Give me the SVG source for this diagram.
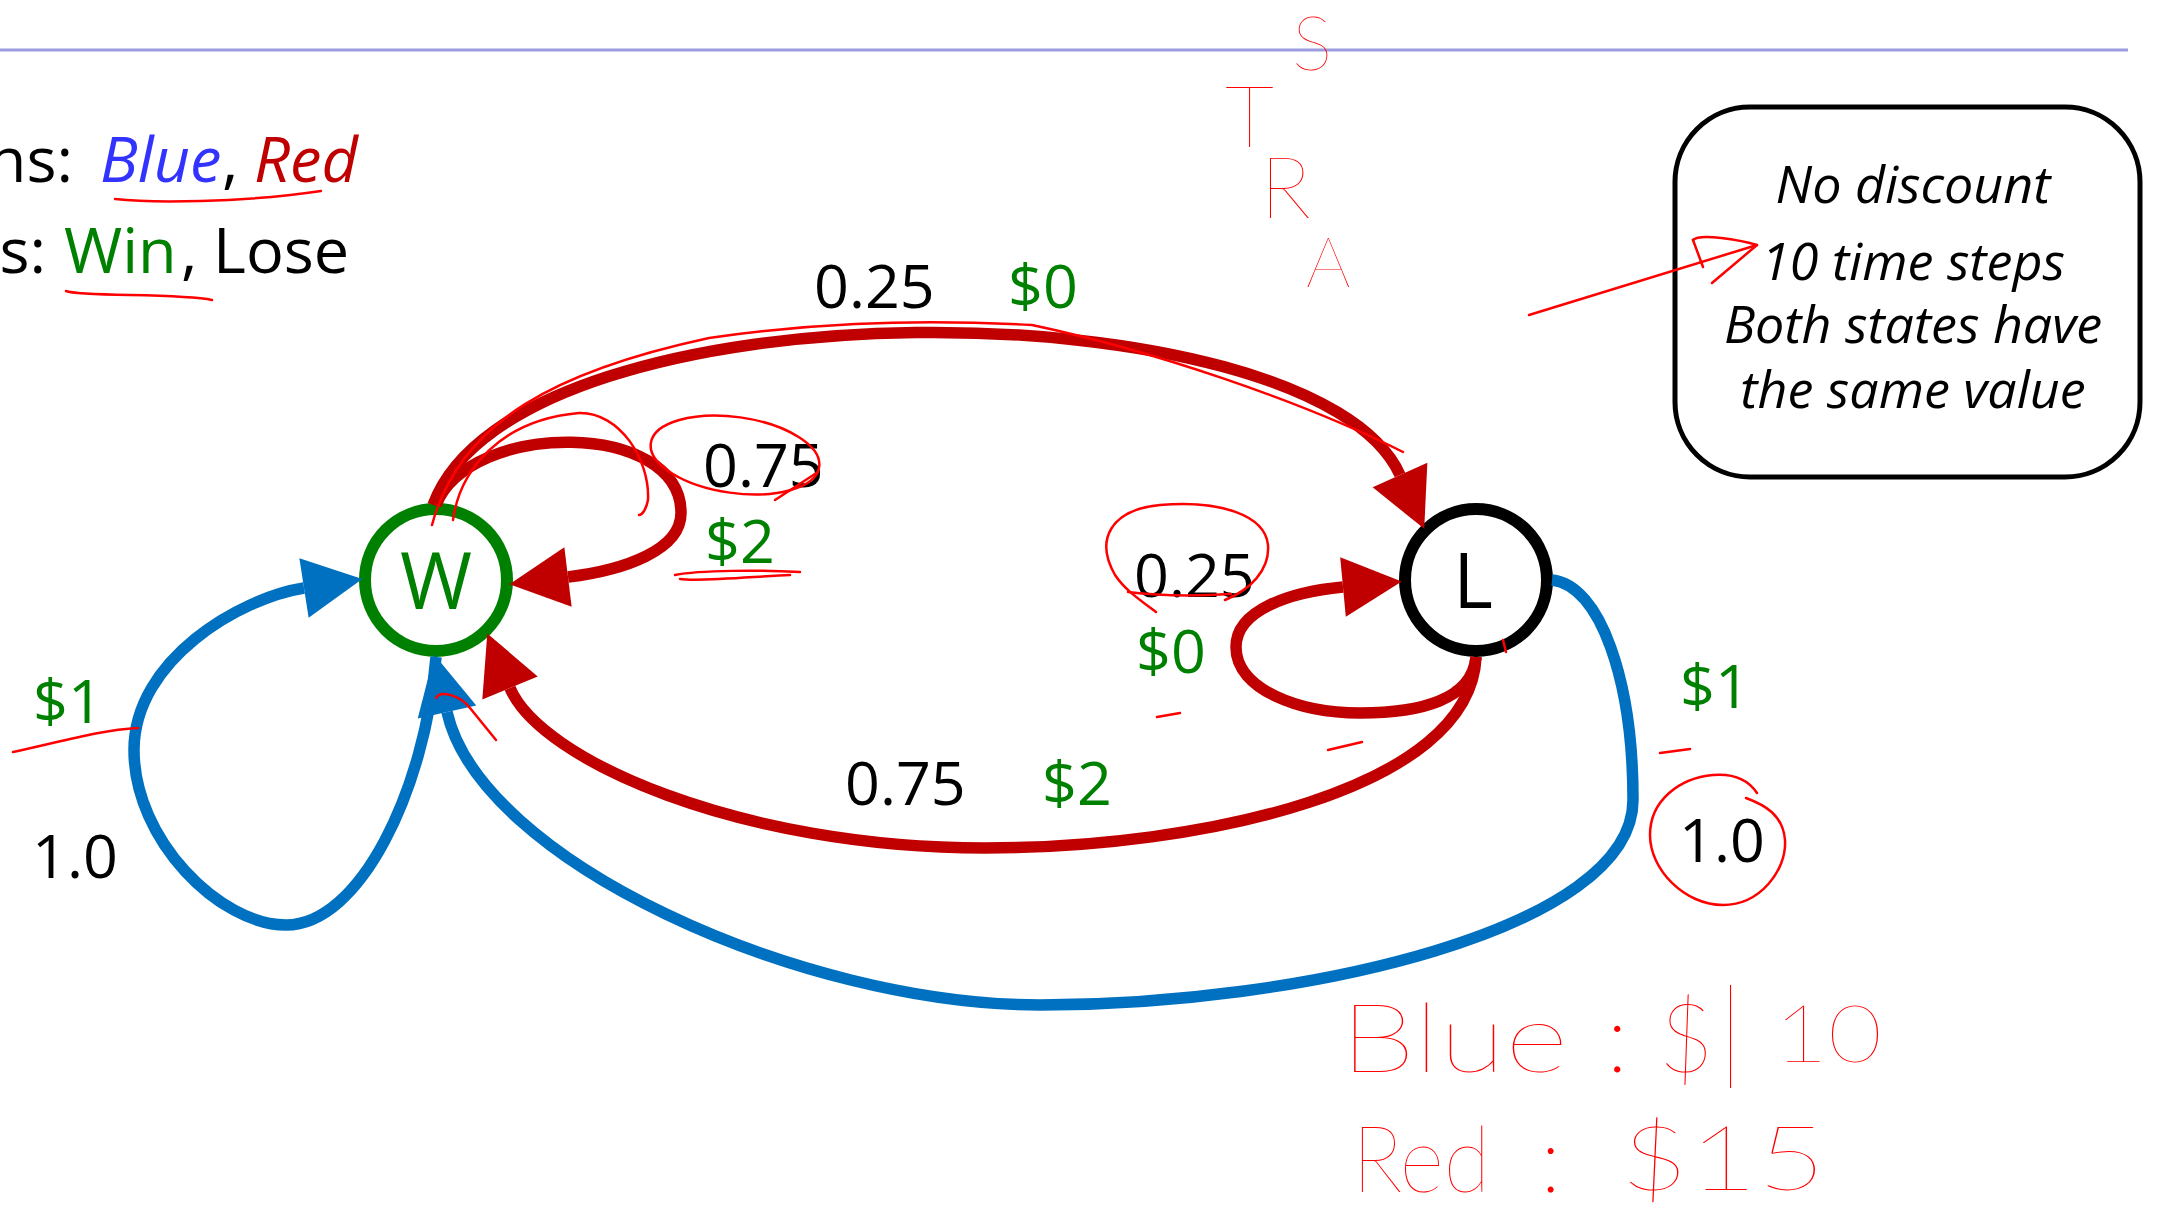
<svg xmlns="http://www.w3.org/2000/svg" width="2157" height="1216" viewBox="0 0 2157 1216">
<defs>
<style>
.t{font-family:"Open Sans","Noto Sans","Liberation Sans",sans-serif;}
.lbl{font-size:61px;fill:#000}
.g{fill:#008000}
.hdr{font-size:63px;fill:#000}
.box{font-size:52px;font-style:italic;text-anchor:middle;fill:#000}
.red{stroke:#c00000;stroke-width:11.5;fill:none}
.blue{stroke:#0070c0;stroke-width:11.5;fill:none}
.ink{stroke:#ff0000;stroke-width:2.5;fill:none;stroke-linecap:round;stroke-linejoin:round}
.hw{font-family:Lato,"Liberation Sans",sans-serif;font-weight:200;fill:#ff0000}
.node{fill:#fff;stroke-width:12}
</style>
<marker id="ar" markerUnits="userSpaceOnUse" markerWidth="60" markerHeight="60" refX="0" refY="30" orient="auto" overflow="visible"><path d="M0,0 L59,30 L0,60 z" fill="#c00000"/></marker>
<marker id="ab" markerUnits="userSpaceOnUse" markerWidth="60" markerHeight="60" refX="0" refY="30" orient="auto" overflow="visible"><path d="M0,0 L59,30 L0,60 z" fill="#0070c0"/></marker>
</defs>
<rect width="2157" height="1216" fill="#fff"/>
<line x1="0" y1="50" x2="2128" y2="50" stroke="#9c9ce0" stroke-width="3"/>

<g id="header" class="t hdr">
<text x="73" y="182" text-anchor="end">ns:</text>
<text x="100" y="182" font-style="italic" fill="#3333ff">Blue</text>
<text x="222" y="182">,</text>
<text x="254" y="182" font-style="italic" fill="#c00000">Red</text>
<text x="46" y="273" text-anchor="end">s:</text>
<text x="64" y="273" class="g">Win</text>
<text x="181" y="273">,</text>
<text x="213" y="273">Lose</text>
</g>

<g id="note">
<rect x="1675" y="107" width="465" height="370" rx="75" ry="75" fill="#fff" stroke="#000" stroke-width="5"/>
<text class="t box" x="1913" y="203">No discount</text>
<text class="t box" x="1913" y="280">10 time steps</text>
<text class="t box" x="1913" y="343">Both states have</text>
<text class="t box" x="1913" y="408">the same value</text>
</g>

<g id="node-W">
<circle class="node" cx="436" cy="580" r="71" stroke="#008000"/>
<text class="t g" x="436" y="609" font-size="78" text-anchor="middle">W</text>
</g>
<g id="node-L">
<circle class="node" cx="1476" cy="580" r="71" stroke="#000"/>
<text class="t" x="1473" y="608" font-size="76" text-anchor="middle" fill="#000">L</text>
</g>

<g id="connectors">
<path class="red" d="M433 505 C517 276 1314 284 1400 475" marker-end="url(#ar)"/>
<path class="red" d="M436 505 C470 420 681 420 681 513 C681 550 625 570 568 577" marker-end="url(#ar)"/>
<path class="red" d="M1476 657 C1472 700 1420 713 1360 713 C1300 713 1236 690 1236 647 C1236 610 1290 592 1343 587" marker-end="url(#ar)"/>
<path class="red" d="M1476 657 C1470 790 1200 848 985 848 C740 848 540 760 510 688" marker-end="url(#ar)"/>
<path class="blue" d="M436 657 C425 790 360 925 286 925 C220 925 134 840 134 750 C134 660 240 598 304 588" marker-end="url(#ab)"/>
<path class="blue" d="M1552 580 C1600 585 1633 680 1633 800 C1633 930 1300 1005 1040 1005 C800 1005 480 860 447 712" marker-end="url(#ab)"/>
</g>

<g id="labels" class="t lbl">
<text x="814" y="308">0.25</text>
<text x="1008" y="308" class="g">$0</text>
<text x="703" y="487">0.75</text>
<text x="705" y="563" class="g">$2</text>
<text x="1134" y="597">0.25</text>
<text x="1136" y="673" class="g">$0</text>
<text x="845" y="805">0.75</text>
<text x="1042" y="805" class="g">$2</text>
<text x="1680" y="708" class="g">$1</text>
<text x="1679" y="862">1.0</text>
<text x="33" y="723" class="g">$1</text>
<text x="32" y="878">1.0</text>
</g>

<g id="ink">
<path class="ink" d="M115 199 C150 203 240 203 321 191"/>
<path class="ink" d="M66 291 C80 297 180 293 212 300"/>
<path class="ink" d="M1529 315 L1757 245"/>
<path class="ink" d="M1693 240 C1700 233 1740 240 1757 245 L1712 283"/>
<path class="ink" d="M1693 240 L1703 267"/>
<path class="ink" d="M432 525 C460 420 560 370 709 338 C800 325 900 318 1032 325 C1150 350 1300 400 1403 452"/>
<path class="ink" d="M453 520 C460 470 500 420 579 413 C620 412 650 460 648 500 C646 510 642 515 639 515"/>
<ellipse class="ink" cx="735" cy="455" rx="85" ry="38" transform="rotate(8 735 455)"/>
<path class="ink" d="M775 500 L818 472"/>
<path class="ink" d="M675 575 C700 570 760 570 800 572"/>
<path class="ink" d="M680 579 C700 582 760 576 790 575"/>
<path class="ink" d="M1156 612 C1140 600 1125 590 1115 575 C1095 540 1110 510 1160 505 C1220 500 1265 515 1268 545 C1270 570 1250 590 1225 600"/>
<path class="ink" d="M1128 592 C1160 596 1200 596 1231 594"/>
<path class="ink" d="M1757 793 C1745 775 1725 774 1713 775 C1680 778 1650 800 1650 835 C1650 870 1685 905 1723 905 C1760 905 1787 870 1785 840 C1783 815 1765 805 1746 798"/>
<path class="ink" d="M1157 717 L1180 713"/>
<path class="ink" d="M1328 750 L1362 742"/>
<path class="ink" d="M1660 753 L1690 749"/>
<path class="ink" d="M13 752 C60 742 100 730 138 728"/>
<path class="ink" d="M436 698 C440 690 460 695 470 708 L496 740"/>
<path class="ink" d="M1503 640 L1506 652"/>
</g>

<g id="handwriting" class="hw">
<text x="1292" y="70" font-size="76">S</text>
<text x="1225" y="147" font-size="86">T</text>
<text x="1260" y="218" font-size="86">R</text>
<text x="1306" y="287" font-size="70">A</text>
<text x="1340" y="1072" font-size="97" textLength="228" lengthAdjust="spacingAndGlyphs">Blue</text>
<text x="1606" y="1072" font-size="97">:</text>
<text x="1658" y="1072" font-size="97">$</text>
<text x="1718" y="1068" font-size="110">|</text>
<text x="1774" y="1062" font-size="80" textLength="108" lengthAdjust="spacingAndGlyphs">10</text>
<text x="1352" y="1192" font-size="92" textLength="138" lengthAdjust="spacingAndGlyphs">Red</text>
<text x="1540" y="1192" font-size="92">:</text>
<text x="1620" y="1190" font-size="90" textLength="206" lengthAdjust="spacingAndGlyphs">$15</text>
</g>
</svg>
